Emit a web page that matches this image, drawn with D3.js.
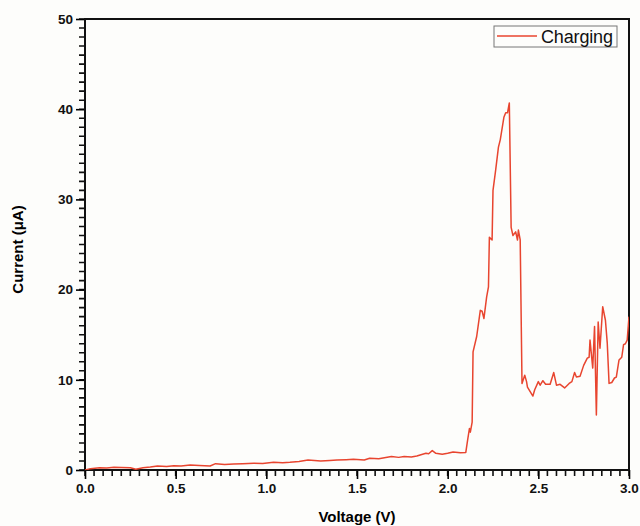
<!DOCTYPE html>
<html>
<head>
<meta charset="utf-8">
<script src="https://cdn.jsdelivr.net/npm/d3@7"></script>
<style>
  body { margin: 0; background: #fdfdfb; }
  svg { display: block; font-family: "Liberation Sans", Arial, sans-serif; }
</style>
</head>
<body>
<div id="chart"></div>
<script>
// data
const voltage = [0.00, 0.03, 0.08, 0.12, 0.16, 0.20, 0.25, 0.28, 0.32, 0.36, 0.40, 0.45, 0.49, 0.53, 0.58, 0.63, 0.69, 0.72, 0.77, 0.82, 0.87, 0.93, 0.98, 1.04, 1.09, 1.13, 1.18, 1.23, 1.30, 1.35, 1.39, 1.44, 1.48, 1.54, 1.57, 1.62, 1.69, 1.73, 1.76, 1.80, 1.83, 1.88, 1.895, 1.915, 1.935, 1.97, 2.00, 2.03, 2.07, 2.10,
  2.11, 2.12, 2.125, 2.135, 2.14, 2.16, 2.18, 2.19, 2.20, 2.215, 2.225, 2.23, 2.245, 2.25, 2.265, 2.28, 2.29, 2.31, 2.32, 2.33, 2.34, 2.35, 2.36, 2.375, 2.385, 2.39, 2.40, 2.41, 2.425, 2.435, 2.44, 2.47, 2.48, 2.50, 2.51, 2.525, 2.54, 2.565, 2.585, 2.60, 2.62, 2.645, 2.67, 2.685, 2.70, 2.71, 2.73, 2.75, 2.77, 2.78, 2.785, 2.80, 2.81, 2.82, 2.83, 2.84, 2.855, 2.87, 2.88, 2.89, 2.905, 2.92, 2.93, 2.945, 2.96, 2.97, 2.98, 2.99, 3.00];
const current = [0.0, 0.15, 0.25, 0.22, 0.3, 0.28, 0.25, 0.08, 0.25, 0.33, 0.44, 0.4, 0.48, 0.45, 0.55, 0.5, 0.44, 0.7, 0.62, 0.66, 0.7, 0.74, 0.72, 0.85, 0.8, 0.85, 0.95, 1.1, 1.0, 1.05, 1.1, 1.15, 1.2, 1.1, 1.3, 1.25, 1.5, 1.4, 1.5, 1.45, 1.55, 1.85, 1.8, 2.15, 1.85, 1.74, 1.85, 2.0, 1.9, 1.95,
  3.3, 4.6, 4.2, 5.3, 13.1, 14.8, 17.7, 17.6, 16.8, 19.2, 20.3, 25.8, 25.5, 31.0, 33.3, 35.8, 36.6, 39.1, 39.6, 39.6, 40.7, 26.9, 26.0, 26.4, 25.5, 26.6, 25.5, 9.6, 10.5, 9.8, 9.2, 8.2, 8.9, 9.8, 9.4, 9.9, 9.5, 9.5, 10.8, 9.4, 9.5, 9.1, 9.6, 9.8, 10.8, 10.3, 10.4, 11.6, 12.4, 12.5, 14.4, 11.3, 15.9, 6.1, 16.4, 13.5, 18.1, 16.6, 14.1, 9.6, 9.7, 10.2, 10.3, 12.2, 12.5, 13.9, 14.0, 14.4, 17.0];
const xTicks = [0.0, 0.5, 1.0, 1.5, 2.0, 2.5, 3.0];
const yTicks = [0, 10, 20, 30, 40, 50];
const xMinorTicks = d3.range(0, 61).map(i => i / 20);
const yMinorTicks = d3.range(0, 51);
const seriesName = "Charging";

const margin = {top: 19, right: 11, bottom: 56, left: 85},
  width = 640 - margin.left - margin.right,
  height = 526 - margin.top - margin.bottom;

const svg = d3.select("#chart").append("svg")
  .attr("width", 640).attr("height", 526)
  .append("g")
  .attr("transform", `translate(${margin.left},${margin.top})`);

const x = d3.scaleLinear().domain([0, 3]).range([0, width]);
const y = d3.scaleLinear().domain([0, 50]).range([height, 0]);

// minor ticks, drawn as one path each
svg.append("path")
  .attr("fill", "none").attr("stroke", "#111").attr("stroke-width", 1.6)
  .attr("d", xMinorTicks.map(d => `M${x(d)},${height}v6`).join(""));
svg.append("path")
  .attr("fill", "none").attr("stroke", "#111").attr("stroke-width", 1.6)
  .attr("d", yMinorTicks.map(d => `M0,${y(d)}h-6`).join(""));

// major ticks
const xAxis = svg.append("g")
  .attr("transform", `translate(0,${height})`)
  .call(d3.axisBottom(x).tickValues(xTicks).tickSize(9).tickPadding(4).tickFormat(d3.format(".1f")));
xAxis.selectAll("text").attr("font-size", 13.5).attr("font-weight", "bold").attr("fill", "#111");
xAxis.selectAll("line").attr("stroke-width", 1.6);
xAxis.select(".domain").remove();

const yAxis = svg.append("g")
  .call(d3.axisLeft(y).tickValues(yTicks).tickSize(9).tickPadding(3).tickFormat(d3.format("d")));
yAxis.selectAll("text").attr("font-size", 13.5).attr("font-weight", "bold").attr("fill", "#111");
yAxis.selectAll("line").attr("stroke-width", 1.6);
yAxis.select(".domain").remove();

// frame
svg.append("rect")
  .attr("width", width).attr("height", height)
  .attr("fill", "none").attr("stroke", "#111").attr("stroke-width", 2);

// clip the line to the plot area
svg.append("clipPath").attr("id", "clip")
  .append("rect").attr("width", width).attr("height", height);

const pts = voltage.map((v, i) => [v, current[i]]);
svg.append("path")
  .datum(pts)
  .attr("clip-path", "url(#clip)")
  .attr("fill", "none")
  .attr("stroke", "#e8452f")
  .attr("stroke-width", 1.5)
  .attr("stroke-linejoin", "round")
  .attr("d", d3.line().x(d => x(d[0])).y(d => y(d[1])));

// legend
const lg = svg.append("g").attr("transform", `translate(${width - 135},7)`);
lg.append("rect").attr("width", 123).attr("height", 21)
  .attr("fill", "#fdfdfb").attr("stroke", "#777").attr("stroke-width", 1);
lg.append("line").attr("x1", 3).attr("x2", 43).attr("y1", 10).attr("y2", 10)
  .attr("stroke", "#e8452f").attr("stroke-width", 1.5);
lg.append("text").attr("x", 47).attr("y", 16.5).attr("font-size", 18).attr("fill", "#111")
  .attr("textLength", 72)
  .text(seriesName);

// axis titles
svg.append("text")
  .attr("x", width / 2).attr("y", height + 52)
  .attr("text-anchor", "middle").attr("font-size", 15).attr("font-weight", "bold")
  .text("Voltage (V)");
svg.append("text")
  .attr("transform", `translate(${-62},${height / 2 + 5}) rotate(-90)`)
  .attr("text-anchor", "middle").attr("font-size", 15).attr("font-weight", "bold")
  .text("Current (μA)");
</script>
</body>
</html>
